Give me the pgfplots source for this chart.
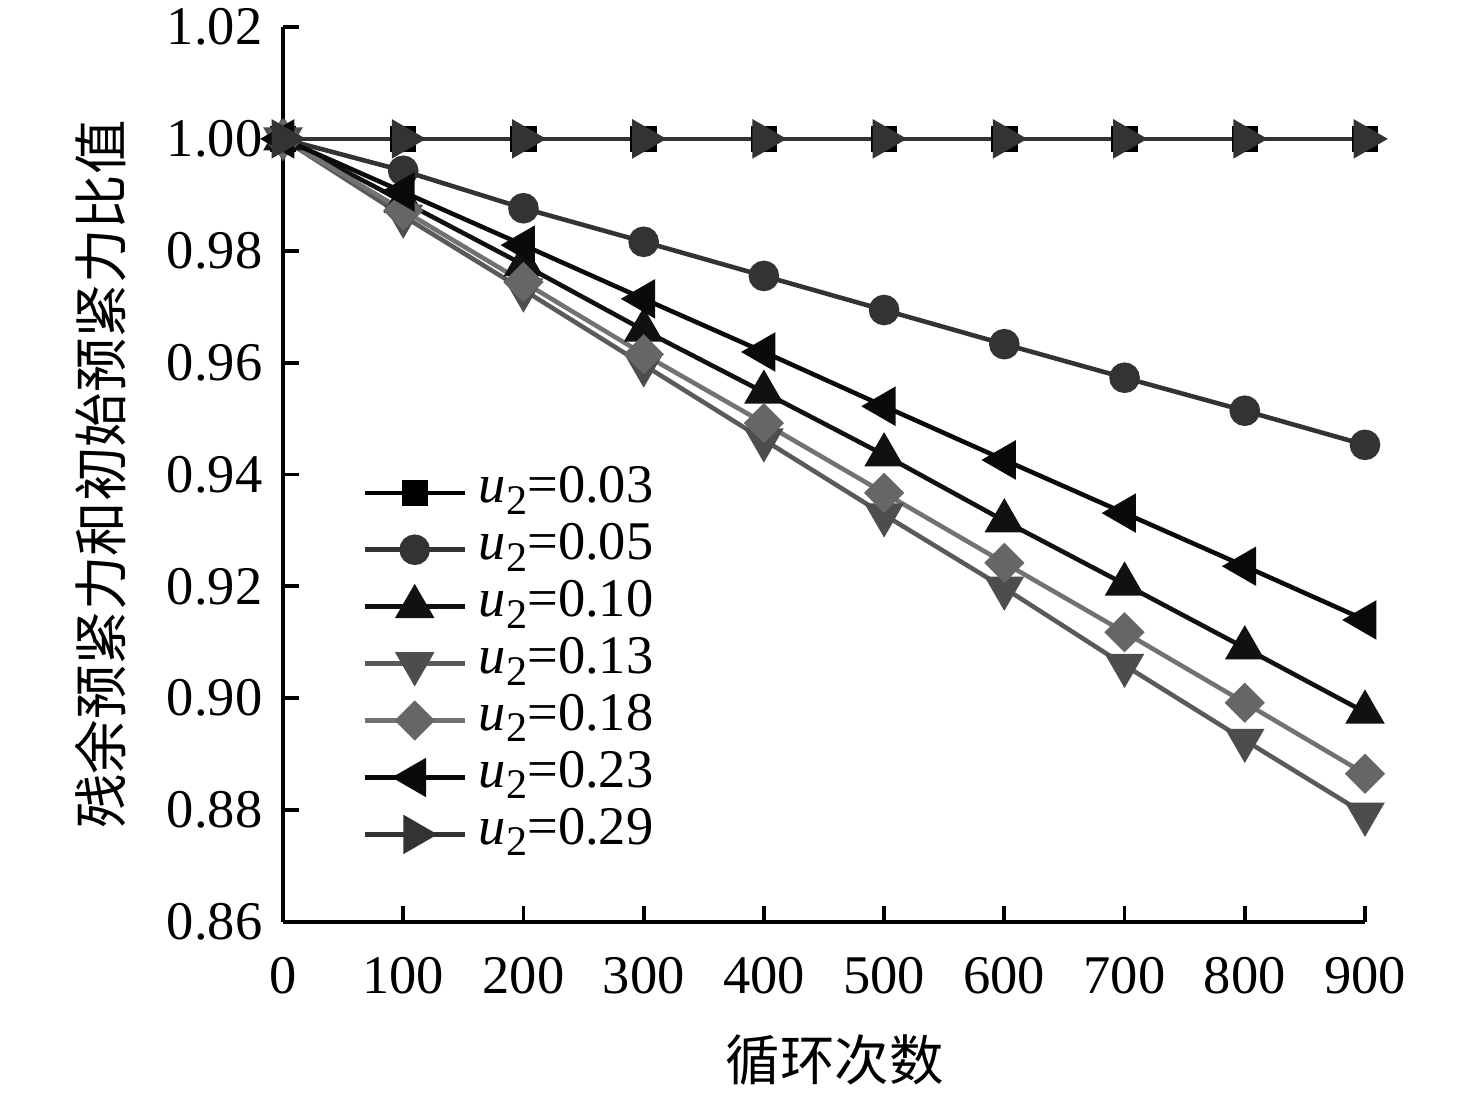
\documentclass[border=0pt]{standalone}
\usepackage{pgfplots}
\pgfplotsset{compat=1.18}
\usepackage{fontspec}
\setmainfont{Liberation Serif}
\newfontfamily\cjk{Noto Sans CJK SC}
\definecolor{cA}{HTML}{000000}
\definecolor{cB}{HTML}{333333}
\definecolor{cC}{HTML}{111111}
\definecolor{cDl}{HTML}{5A5A5A}
\definecolor{cD}{HTML}{4D4D4D}
\definecolor{cEl}{HTML}{727272}
\definecolor{cE}{HTML}{666666}
\definecolor{cF}{HTML}{0A0A0A}
\definecolor{cG}{HTML}{333333}
\newcommand{\ut}{\textit{u}\raisebox{-0.45ex}{\fontsize{12}{12}\selectfont 2}}
\begin{document}
\fontsize{15.5}{17}\selectfont
\begin{tikzpicture}
\useasboundingbox (-28.3mm,-17.5mm) rectangle (119.3mm,92.2mm);
\begin{axis}[
  scale only axis,
  width=108.2mm, height=89.5mm,
  xmin=0, xmax=900, ymin=0.86, ymax=1.02,
  axis x line*=bottom, axis y line*=left,
  axis line style={line width=1.1pt, -},
  xtick={0,100,...,900},
  ytick={0.86,0.88,...,1.021},
  tick align=inside,
  major tick length=1.6mm,
  tick style={line width=1.1pt, black},
  /pgf/number format/assume math mode=true,
  yticklabel style={/pgf/number format/fixed, /pgf/number format/fixed zerofill, /pgf/number format/precision=2, inner sep=0pt, xshift=-2mm},
  xticklabel style={inner sep=0pt, yshift=-3.5mm},
  ticklabel style={font=\fontsize{15.5}{17}\selectfont},
  scaled y ticks=false,
  xlabel={\cjk 循环次数},
  ylabel={\cjk 残余预紧力和初始预紧力比值},
  xlabel style={at={(axis description cs:0.51,-0.154)}, anchor=center, font=\fontsize{15.5}{17}\selectfont},
  ylabel style={at={(axis description cs:-0.169,0.5)}, anchor=center, rotate=0, font=\fontsize{15.5}{17}\selectfont},
  legend style={draw=none, fill=white, at={(axis description cs:0.063,0.52)}, anchor=north west,
    font=\fontsize{15.5}{17}\selectfont,
    nodes={inner sep=0pt, text height=11pt, text depth=5.2pt, anchor=west},
    column sep=1.2mm},
  legend cell align=left,
  legend image code/.code={\draw[mark repeat=2, mark phase=2] plot coordinates {(0mm,0mm) (5mm,0mm) (10mm,0mm)};},
  every axis plot/.append style={line width=1.3pt},
]
\addplot[color=cA, mark=square*, mark size=3.1pt, mark options={fill=cA, draw=cA}] coordinates {
(0,1.0)(100,1.0)(200,1.0)(300,1.0)(400,1.0)(500,1.0)(600,1.0)(700,1.0)(800,1.0)(900,1.0)};
\addlegendentry{\ut=0.03}
\addplot[color=cB, mark=*, mark size=3.7pt, mark options={fill=cB, draw=cB}] coordinates {
(0,1.0)(100,0.9943)(200,0.9876)(300,0.9816)(400,0.9755)(500,0.9694)(600,0.9633)(700,0.9573)(800,0.9514)(900,0.9453)};
\addlegendentry{\ut=0.05}
\addplot[color=cC, mark=triangle*, mark size=5.2pt, mark options={fill=cC, draw=cC}] coordinates {
(0,1.0)(100,0.9888)(200,0.9775)(300,0.9658)(400,0.9547)(500,0.9435)(600,0.9317)(700,0.9204)(800,0.9090)(900,0.8975)};
\addlegendentry{\ut=0.10}
\addplot[color=cDl, mark=triangle*, mark size=5.2pt, mark options={fill=cD, draw=cD, rotate=180}] coordinates {
(0,1.0)(100,0.9862)(200,0.9730)(300,0.9596)(400,0.9462)(500,0.9328)(600,0.9197)(700,0.9059)(800,0.8925)(900,0.8793)};
\addlegendentry{\ut=0.13}
\addplot[color=cEl, mark=square*, mark size=3.4pt, mark options={fill=cE, draw=cE, rotate=45}] coordinates {
(0,1.0)(100,0.9872)(200,0.9744)(300,0.9615)(400,0.9492)(500,0.9367)(600,0.9242)(700,0.9118)(800,0.8992)(900,0.8865)};
\addlegendentry{\ut=0.18}
\addplot[color=cF, mark=triangle*, mark size=5.2pt, mark options={fill=cF, draw=cF, rotate=90}] coordinates {
(0,1.0)(100,0.9905)(200,0.9810)(300,0.9714)(400,0.9619)(500,0.9522)(600,0.9426)(700,0.9331)(800,0.9236)(900,0.9140)};
\addlegendentry{\ut=0.23}
\addplot[color=cG, mark=triangle*, mark size=5.2pt, mark options={fill=cG, draw=cG, rotate=-90}] coordinates {
(0,1.0)(100,1.0)(200,1.0)(300,1.0)(400,1.0)(500,1.0)(600,1.0)(700,1.0)(800,1.0)(900,1.0)};
\addlegendentry{\ut=0.29}
\end{axis}
\end{tikzpicture}
\end{document}
